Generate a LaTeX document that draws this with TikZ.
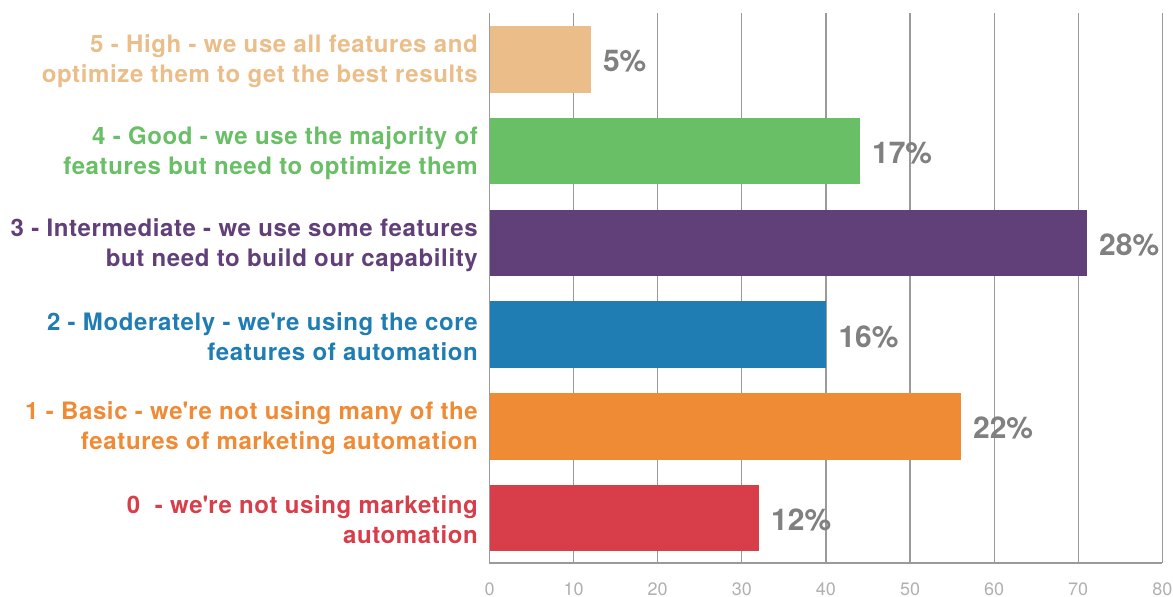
\documentclass[tikz,border=0pt]{standalone}
\usepackage{fontspec}
\setmainfont{TeX Gyre Heros}
\usepackage{xcolor}
\usepackage{tikz}
\usetikzlibrary{positioning}

\definecolor{c5}{HTML}{EBBD89}
\definecolor{c4}{HTML}{68BF65}
\definecolor{c3}{HTML}{614079}
\definecolor{c2}{HTML}{1F7DB4}
\definecolor{c1}{HTML}{EF8A35}
\definecolor{c0}{HTML}{D83D4A}
\definecolor{pctgray}{HTML}{808080}
\definecolor{gridgray}{HTML}{9A9A9A}
\definecolor{tickgray}{HTML}{B0B0B0}

\begin{document}
\begin{tikzpicture}[x=1pt, y=-1pt,
    bar/.style={anchor=west, inner sep=0, minimum height=66.5pt},
    lbl/.style={anchor=east, inner sep=0, align=right, yshift=-2pt,
      font=\fontsize{24}{30}\bfseries\addfontfeature{LetterSpace=2.6}\selectfont},
    pct/.style={inner sep=0, text=pctgray, yshift=-2pt, font=\fontsize{30}{30}\bfseries\selectfont},
    tick/.style={inner sep=0, text=tickgray, font=\fontsize{18}{18}\selectfont},
    grid/.style={draw=gridgray, line width=1.2pt}]
    \useasboundingbox (0,0) rectangle (1173,597);

    % grid and axis
    \draw[grid] (489.5,13) -- (489.5,563) -- (1162.3,563);
    \draw[grid] (573.6,13) -- (573.6,563);
    \draw[grid] (657.7,13) -- (657.7,563);
    \draw[grid] (741.8,13) -- (741.8,563);
    \draw[grid] (825.9,13) -- (825.9,563);
    \draw[grid] (910.0,13) -- (910.0,563);
    \draw[grid] (994.1,13) -- (994.1,563);
    \draw[grid] (1078.2,13) -- (1078.2,563);
    \draw[grid] (1162.3,13) -- (1162.3,563);

    \node[tick] (T0) at (489.5,589) {0};
    \node[tick] (T10) at (573.6,589) {10};
    \node[tick] (T20) at (657.7,589) {20};
    \node[tick] (T30) at (741.8,589) {30};
    \node[tick] (T40) at (825.9,589) {40};
    \node[tick] (T50) at (910.0,589) {50};
    \node[tick] (T60) at (994.1,589) {60};
    \node[tick] (T70) at (1078.2,589) {70};
    \node[tick] (T80) at (1162.3,589) {80};

    % bars
    \node[bar, fill=c5, minimum width=100.9pt] (B5) at (489.5,59.5) {};
    \node[bar, fill=c4, minimum width=370.0pt] (B4) at (489.5,151.2) {};
    \node[bar, fill=c3, minimum width=597.1pt] (B3) at (489.5,242.9) {};
    \node[bar, fill=c2, minimum width=336.4pt] (B2) at (489.5,334.6) {};
    \node[bar, fill=c1, minimum width=471.0pt] (B1) at (489.5,426.3) {};
    \node[bar, fill=c0, minimum width=269.1pt] (B0) at (489.5,518.0) {};

    % values
    \node[pct, right=12pt of B5] (P5) {5\%};
    \node[pct, right=12pt of B4] (P4) {17\%};
    \node[pct, right=12pt of B3] (P3) {28\%};
    \node[pct, right=12pt of B2] (P2) {16\%};
    \node[pct, right=12pt of B1] (P1) {22\%};
    \node[pct, right=12pt of B0] (P0) {12\%};

    % category labels
    \node[lbl, text=c5] (L5) at (478,59.5) {5 - High - we use all features and\\optimize them to get the best results};
    \node[lbl, text=c4] (L4) at (478,151.2) {4 - Good - we use the majority of\\features but need to optimize them};
    \node[lbl, text=c3] (L3) at (478,242.9) {3 - Intermediate - we use some features\\but need to build our capability};
    \node[lbl, text=c2] (L2) at (478,334.6) {2 - Moderately - we\textquotesingle re using the core\\features of automation};
    \node[lbl, text=c1] (L1) at (478,426.3) {1 - Basic - we\textquotesingle re not using many of the\\features of marketing automation};
    \node[lbl, text=c0] (L0) at (478,518.0) {0 \ - we\textquotesingle re not using marketing\\automation};
\end{tikzpicture}
\end{document}
